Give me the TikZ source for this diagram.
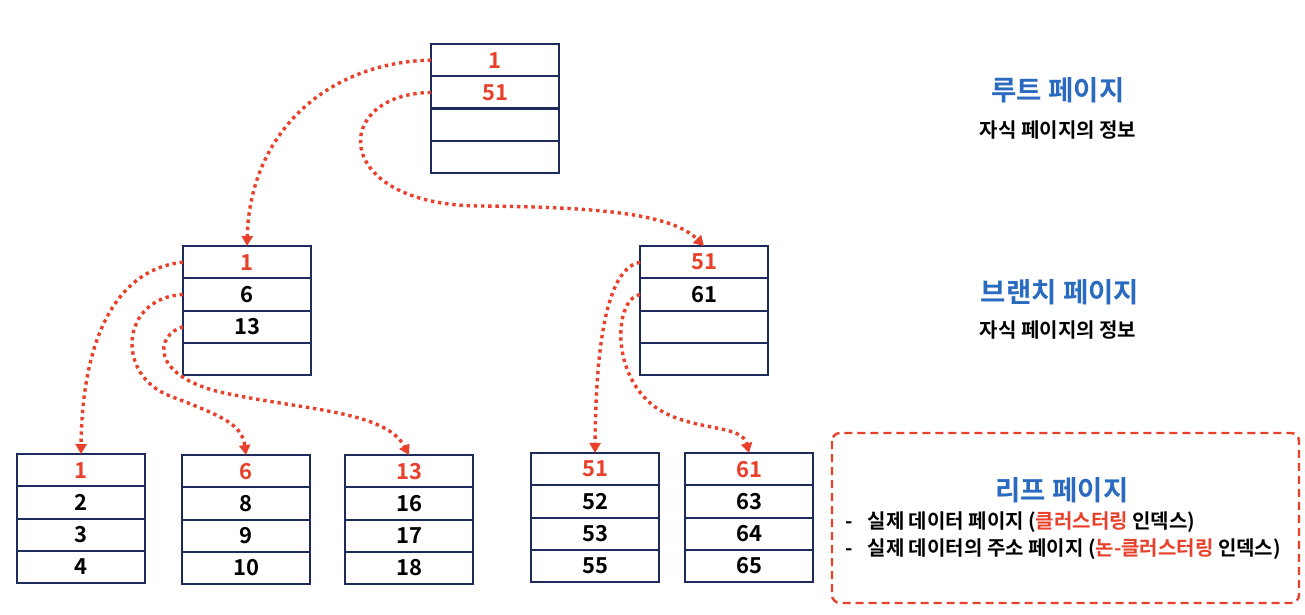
\documentclass[tikz,border=0pt]{standalone}
\usepackage{fontspec}
\setmainfont{Noto Sans CJK KR}[BoldFont={* Bold}]
\usetikzlibrary{arrows.meta}
\definecolor{pgred}{HTML}{E8402A}
\definecolor{pgblue}{HTML}{2A6BC0}
\definecolor{pgnavy}{HTML}{1C2B5A}
\tikzset{
  cell/.style={draw=pgnavy, line width=2.2pt, minimum width=128pt, minimum height=32.3pt,
    inner sep=0pt, outer sep=0pt, font=\bfseries\fontsize{22}{22}\selectfont, text=black},
  ptr/.style={draw=pgred, line width=3.4pt, dash pattern=on 3.4pt off 3.8pt,
    -{Triangle[length=10pt,width=11pt]}, fill=none},
  title/.style={font=\bfseries\fontsize{27.5}{32}\selectfont, text=pgblue, inner sep=0pt},
  sub/.style={font=\bfseries\fontsize{20}{24}\selectfont, text=black, inner sep=0pt},
}
\newcommand\pagebox[8]{%
  \node[cell,anchor=north west,text=pgred] (#1-1) at (#2,#3) {#5};
  \node[cell,anchor=north,text=#4] (#1-2) at (#1-1.south) {#6};
  \node[cell,anchor=north] (#1-3) at (#1-2.south) {#7};
  \node[cell,anchor=north] (#1-4) at (#1-3.south) {#8};
}
\begin{document}
\begin{tikzpicture}[x=1pt,y=-1pt]
\useasboundingbox (0,0) rectangle (1305,615);
\fill[white] (0,0) rectangle (1305,615);
% pages
\pagebox{rt}{431}{44}{pgred}{1}{51}{}{}
\pagebox{bl}{183}{246}{black}{1}{6}{13}{}
\pagebox{br}{640}{246}{black}{51}{61}{}{}
\pagebox{la}{17}{454}{black}{1}{2}{3}{4}
\pagebox{lb}{182}{455}{black}{6}{8}{9}{10}
\pagebox{lc}{345}{455}{black}{13}{16}{17}{18}
\pagebox{ld}{531}{453}{black}{51}{52}{53}{55}
\pagebox{le}{685}{453}{black}{61}{63}{64}{65}
% pointers
\draw[ptr] (rt-1.west) .. controls (330,62) and (250,130) .. (bl-1.north);
\draw[ptr] (rt-2.west) .. controls (330,94) and (330,205) .. (480,206)
  .. controls (600,207) and (672,214) .. (br-1.north);
\draw[ptr] (bl-1.west) .. controls (110,270) and (82,350) .. (la-1.north);
\draw[ptr] (bl-2.west) .. controls (120,298) and (115,375) .. (170,396)
  .. controls (225,417) and (242,425) .. (lb-1.north);
\draw[ptr] (bl-3.west) .. controls (155,335) and (150,375) .. (220,392)
  .. controls (300,410) and (385,410) .. (lc-1.north);
\draw[ptr] (br-1.west) .. controls (610,268) and (596,330) .. (ld-1.north);
\draw[ptr] (br-2.west) .. controls (612,300) and (610,385) .. (665,413)
  .. controls (700,431) and (742,425) .. (le-1.north);
% labels
\node[title] (t1) at (1058,90) {루트 페이지};
\node[sub] (s1) at (1058,130) {자식 페이지의 정보};
\node[title] (t2) at (1060,292) {브랜치 페이지};
\node[sub] (s2) at (1058,330) {자식 페이지의 정보};
% leaf box
\draw[draw=pgred, line width=2.4pt, dash pattern=on 8pt off 5pt, rounded corners=8pt]
  (832,433) rectangle (1299,603);
\node[title] (t3) at (1062,490) {리프 페이지};
\node[sub, anchor=west] (b1) at (845,522) {-\hspace{15pt}실제 데이터 페이지 (\textcolor{pgred}{클러스터링} 인덱스)};
\node[sub, anchor=west] (b2) at (845,549) {-\hspace{15pt}실제 데이터의 주소 페이지 (\textcolor{pgred}{논-클러스터링} 인덱스)};
\end{tikzpicture}
\end{document}
